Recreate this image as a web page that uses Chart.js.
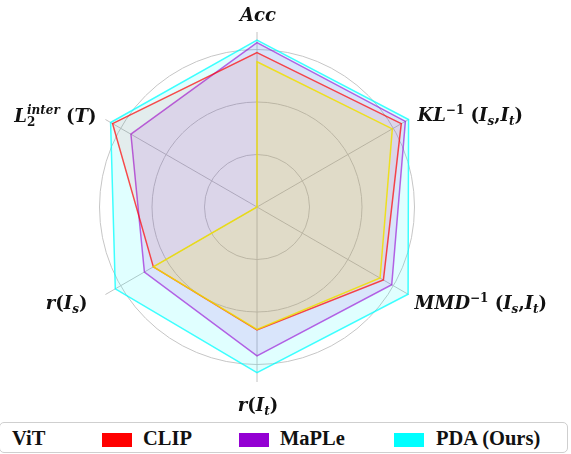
<!DOCTYPE html>
<html lang="en">
<head>
  <meta charset="UTF-8">
  <title>Radar comparison</title>
  <style>
    body {
      margin: 0;
      background: #fff;
    }
    #wrap {
      position: relative;
      width: 571px;
      height: 454px;
    }
    #chart {
      position: absolute;
      left: 0;
      top: 0;
    }
    .legend {
      position: absolute;
      left: -1px;
      top: 422px;
      width: 567px;
      height: 29px;
      border: 1px solid #cfcfcf;
      border-radius: 5px;
      font-family: "Liberation Serif", "Times New Roman", serif;
      font-weight: bold;
      font-size: 20.5px;
    }
    .legend span {
      position: absolute;
      top: 4px;
      line-height: 22px;
      color: #111;
    }
    .legend i {
      position: absolute;
      top: 10px;
      width: 30px;
      height: 14px;
    }
  </style>
</head>
<body>
  <div id="wrap">
    <canvas id="chart" width="571" height="420"></canvas>
    <div class="legend" id="legend"></div>
  </div>

  <script src="https://cdn.jsdelivr.net/npm/chart.js"></script>
  <script>
    // axes, clockwise from the top
    const axes = ['Acc', 'KL⁻¹ (Iₛ,Iₜ)', 'MMD⁻¹ (Iₛ,Iₜ)', 'r(Iₜ)', 'r(Iₛ)', 'L₂ⁱⁿᵗᵉʳ (T)'];
    const gridTicks = [0, 0.3, 0.6, 0.9];

    const vit   = [0.83, 0.893, 0.812, 0.70, 0.684, 0];
    const clip  = [0.882, 0.952, 0.834, 0.703, 0.684, 0.953];
    const maple = [0.939, 0.979, 0.889, 0.851, 0.743, 0.832];
    const pda   = [0.954, 1.0, 0.997, 0.947, 0.935, 0.966];

    const seriesNames = ['ViT', 'CLIP', 'MaPLe', 'PDA (Ours)'];

    // rich label pieces: [text, italic, 'sub' | 'sup' | undefined, stacked sup]
    const richLabels = [
      [['Acc', true]],
      [['KL', true], ['−1', false, 'sup'], [' (', false], ['I', true], ['s', true, 'sub'], [',', false], ['I', true], ['t', true, 'sub'], [')', false]],
      [['MMD', true], ['−1', false, 'sup'], [' (', false], ['I', true], ['s', true, 'sub'], [',', false], ['I', true], ['t', true, 'sub'], [')', false]],
      [['r', true], ['(', false], ['I', true], ['t', true, 'sub'], [')', false]],
      [['r', true], ['(', false], ['I', true], ['s', true, 'sub'], [')', false]],
      [['L', true], ['2', false, 'sub', 'inter'], [' (', false], ['T', true], [')', false]]
    ];
    // where each label sits relative to the end of its axis
    const labelPlace = [
      { align: 'center', dx: 1, dy: -18 },
      { align: 'left', dx: 9, dy: -5 },
      { align: 'left', dx: 6, dy: 8 },
      { align: 'center', dx: 1, dy: 22 },
      { align: 'right', dx: -18, dy: 8 },
      { align: 'right', dx: -9, dy: -4 }
    ];

    const FONT = '"DejaVu Serif", serif';
    const SIZE = 18;
    const SMALL = 12;

    function fontFor(italic, small) {
      return (italic ? 'italic ' : '') + 'bold ' + (small ? SMALL : SIZE) + 'px ' + FONT;
    }

    function pieceWidth(ctx, p) {
      ctx.font = fontFor(p[1], !!p[2]);
      let w = ctx.measureText(p[0]).width;
      if (p[3]) {
        ctx.font = fontFor(true, true);
        w = Math.max(w, ctx.measureText(p[3]).width);
      }
      return w;
    }

    const axisLabels = {
      id: 'axisLabels',
      afterDraw(chart) {
        const ctx = chart.ctx;
        const scale = chart.scales.r;
        ctx.save();
        ctx.fillStyle = '#111';
        ctx.textBaseline = 'alphabetic';
        ctx.textAlign = 'left';
        richLabels.forEach((pieces, i) => {
          const pt = scale.getPointPosition(i, scale.drawingArea);
          const place = labelPlace[i];
          const total = pieces.reduce((s, p) => s + pieceWidth(ctx, p), 0);
          let x = pt.x + place.dx;
          if (place.align === 'center') x -= total / 2;
          if (place.align === 'right') x -= total;
          const base = pt.y + place.dy + 6.5;
          pieces.forEach(p => {
            const w = pieceWidth(ctx, p);
            ctx.font = fontFor(p[1], !!p[2]);
            let y = base;
            if (p[2] === 'sub') y = base + 4;
            if (p[2] === 'sup') y = base - 7;
            ctx.fillText(p[0], x, y);
            if (p[3]) {
              ctx.font = fontFor(true, true);
              ctx.fillText(p[3], x, base - 8);
            }
            x += w;
          });
        });
        ctx.restore();
      }
    };

    const lineColors = ['rgba(240,225,0,0.85)', 'rgba(255,0,0,0.7)', 'rgba(148,0,211,0.6)', 'rgba(0,255,255,0.75)'];
    const fillColors = ['rgba(255,255,0,0.14)', 'rgba(255,0,0,0.07)', 'rgba(148,0,211,0.1)', 'rgba(0,255,255,0.12)'];
    const swatchColors = ['transparent', '#ff0000', '#9400d3', '#00ffff'];

    const values = [vit, clip, maple, pda];

    new Chart(document.getElementById('chart'), {
      type: 'radar',
      data: {
        labels: axes,
        datasets: values.map((v, i) => ({
          label: seriesNames[i],
          data: v,
          borderColor: lineColors[i],
          backgroundColor: fillColors[i],
          borderWidth: 1.5,
          pointRadius: 0,
          tension: 0,
          fill: true
        }))
      },
      options: {
        responsive: false,
        animation: false,
        layout: {
          padding: { left: 82, right: 139, top: 32, bottom: 38 }
        },
        plugins: {
          legend: { display: false },
          tooltip: { enabled: false }
        },
        scales: {
          r: {
            min: 0,
            max: 1,
            afterBuildTicks: (scale) => {
              scale.ticks = gridTicks.map(v => ({ value: v }));
            },
            ticks: { display: false },
            pointLabels: { display: false },
            grid: { circular: true, color: '#c6c6c6', lineWidth: 1 },
            angleLines: { color: '#c2c2c2', lineWidth: 1 }
          }
        }
      },
      plugins: [axisLabels]
    });

    // legend strip under the chart
    const legendPos = [
      { box: null, text: 12 },
      { box: 102, text: 143 },
      { box: 239, text: 280 },
      { box: 394, text: 436 }
    ];
    const legend = document.getElementById('legend');
    seriesNames.forEach((name, i) => {
      const pos = legendPos[i];
      if (pos.box !== null) {
        const sw = document.createElement('i');
        sw.style.left = pos.box + 'px';
        sw.style.background = swatchColors[i];
        legend.appendChild(sw);
      }
      const t = document.createElement('span');
      t.style.left = pos.text + 'px';
      t.textContent = name;
      legend.appendChild(t);
    });
  </script>
</body>
</html>
